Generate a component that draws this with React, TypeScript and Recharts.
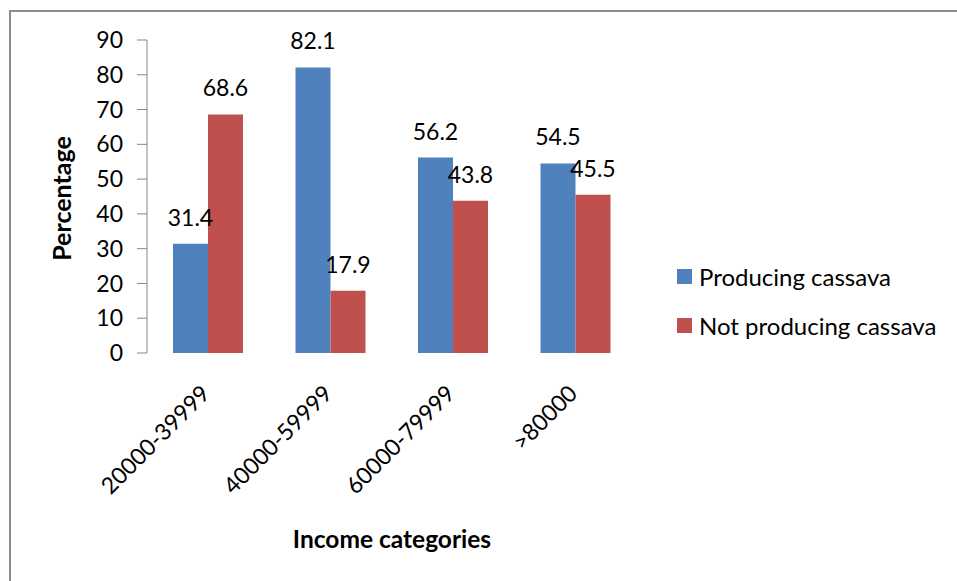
import React from 'react';
import { BarChart, Bar, XAxis, YAxis, Legend, LabelList, Label } from 'recharts';

const categories = ['20000-39999', '40000-59999', '60000-79999', '>80000'];
const producing = [31.4, 82.1, 56.2, 54.5];
const notProducing = [68.6, 17.9, 43.8, 45.5];
const yTicks = [0, 10, 20, 30, 40, 50, 60, 70, 80, 90];
const edgeTicks = [0, 1, 2, 3, 4];
const seriesNames = ['Producing cassava', 'Not producing cassava'];
const colors = ['#4F81BD', '#C0504D'];

const data = categories.map((c, i) => ({
  category: c,
  producing: producing[i],
  notProducing: notProducing[i],
}));

const FONT = 'Lato, "Open Sans", sans-serif';
const AXIS = '#868686';

const XTick = (props: any) => {
  const { x, y, payload } = props;
  return (
    <g transform={`translate(${x + 3},${y + 42})`}>
      <text textAnchor="end" transform="rotate(-45)" fontSize={23} fontFamily={FONT} fill="#000">
        {payload.value}
      </text>
    </g>
  );
};

const renderLegend = () => (
  <div style={{ fontFamily: FONT, fontSize: 24, color: '#000' }}>
    {seriesNames.map((n, i) => (
      <div key={n} style={{ display: 'flex', alignItems: 'center', height: 49, whiteSpace: 'nowrap' }}>
        <span style={{ display: 'inline-block', width: 15, height: 15, background: colors[i], marginRight: 7 }} />
        <span>{n}</span>
      </div>
    ))}
  </div>
);

export default function App() {
  return (
    <div style={{ position: 'absolute', left: 0, top: 0, width: 957, height: 581, overflow: 'hidden', background: '#fff' }}>
      <div style={{ position: 'absolute', left: 9, top: 10, width: 1200, height: 1200, borderLeft: '2px solid #8c8c8c', borderTop: '2px solid #8c8c8c' }} />
      <div style={{ position: 'absolute', left: 0, top: 0 }}>
        <BarChart width={957} height={581} data={data} margin={{ top: 40, right: 320, left: 0, bottom: 0 }} barGap={0}>
          <XAxis
            xAxisId="edges"
            type="number"
            domain={[0, categories.length]}
            ticks={edgeTicks}
            height={0}
            tickSize={9}
            tick={() => <g />}
            stroke={AXIS}
            tickLine={{ stroke: AXIS }}
            axisLine={{ stroke: AXIS }}
          />
          <XAxis
            dataKey="category"
            height={228}
            tickSize={0}
            tickMargin={0}
            axisLine={false}
            tickLine={false}
            tick={<XTick />}
            interval={0}
          >
            <Label
              content={(p: any) => {
                const vb = p.viewBox;
                return (
                  <text x={vb.x + vb.width / 2} y={vb.y + 195} textAnchor="middle" fontSize={24.5} fontWeight="bold" fontFamily={FONT} fill="#000">
                    Income categories
                  </text>
                );
              }}
            />
          </XAxis>
          <YAxis
            width={147}
            domain={[0, 90]}
            ticks={yTicks}
            interval={0}
            tickSize={10}
            tickMargin={14}
            stroke={AXIS}
            axisLine={{ stroke: AXIS }}
            tickLine={{ stroke: AXIS }}
            tick={{ fontSize: 23, fontFamily: FONT, fill: '#000' }}
          >
            <Label
              content={(p: any) => {
                const vb = p.viewBox;
                const cx = vb.x + 71;
                const cy = vb.y + vb.height / 2 + 2;
                return (
                  <text x={cx} y={cy} transform={`rotate(-90, ${cx}, ${cy})`} textAnchor="middle" fontSize={25} fontWeight="bold" fontFamily={FONT} fill="#000">
                    Percentage
                  </text>
                );
              }}
            />
          </YAxis>
          <Legend
            layout="horizontal"
            verticalAlign="middle"
            align="center"
            wrapperStyle={{ left: 677, top: 252, width: 280, height: 100 }}
            content={renderLegend}
          />
          <Bar dataKey="producing" name={seriesNames[0]} fill={colors[0]} barSize={35} isAnimationActive={false}>
            <LabelList dataKey="producing" position="top" offset={18} fontSize={23} fontFamily={FONT} fill="#000" />
          </Bar>
          <Bar dataKey="notProducing" name={seriesNames[1]} fill={colors[1]} barSize={35} isAnimationActive={false}>
            <LabelList dataKey="notProducing" position="top" offset={18} fontSize={23} fontFamily={FONT} fill="#000" />
          </Bar>
        </BarChart>
      </div>
    </div>
  );
}
